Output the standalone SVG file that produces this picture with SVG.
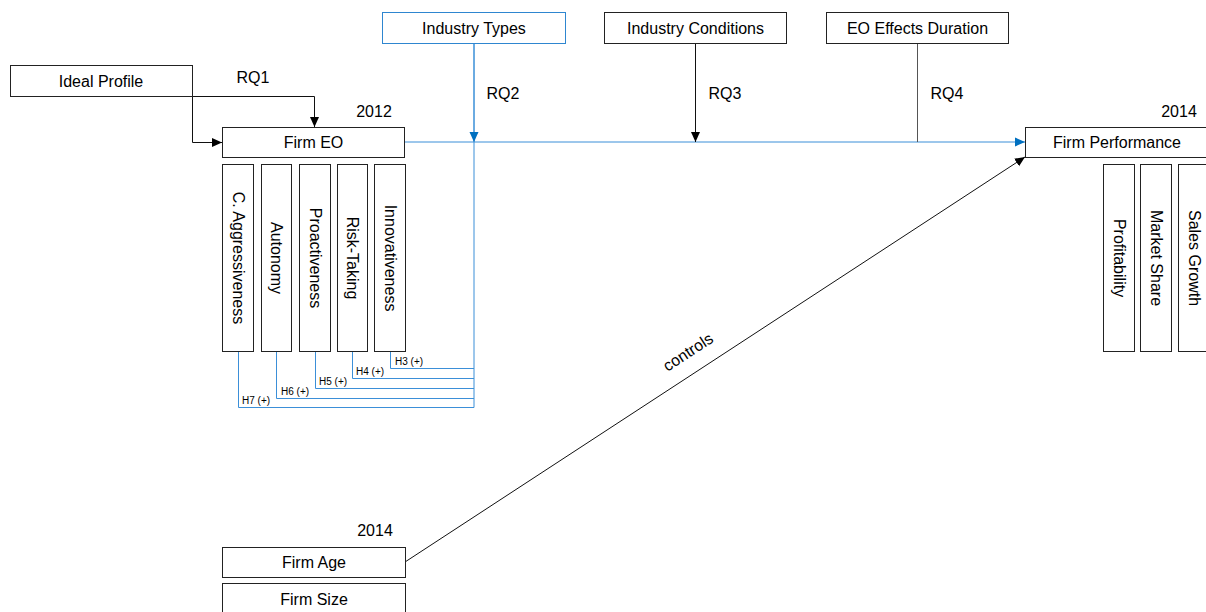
<svg xmlns="http://www.w3.org/2000/svg" width="1206" height="612" viewBox="0 0 1206 612">
<style>
text{font-family:"Liberation Sans",Arial,sans-serif;fill:#000}
.t{font-size:16px;text-anchor:middle}
.v{font-size:16px;text-anchor:middle;dominant-baseline:central}
.h{font-size:10px}
.box{fill:#fff;stroke:#222;stroke-width:1}
.bbox{fill:#fff;stroke:#2e86d0;stroke-width:1}
.k{fill:none;stroke:#111;stroke-width:1}
.g{fill:none;stroke:#555;stroke-width:1}
.b{fill:none;stroke:#3b8fd8;stroke-width:1}
</style>
<defs>
<marker id="ak" markerUnits="userSpaceOnUse" markerWidth="10" markerHeight="10" refX="10" refY="5" orient="auto"><path d="M0,0.5 L10,5 L0,9.5 z" fill="#000"/></marker>
<marker id="ab" markerUnits="userSpaceOnUse" markerWidth="10" markerHeight="10" refX="10" refY="5" orient="auto"><path d="M0,0.5 L10,5 L0,9.5 z" fill="#0070c0"/></marker>
</defs>
<g id="connectors">
<path class="k" d="M192.5,96.5 V142.5 H222" marker-end="url(#ak)"/>
<path class="k" d="M192.5,96.5 H314.5 V127" marker-end="url(#ak)"/>
<path class="b" d="M474,43 V407.5"/>
<path class="b" d="M474,43 V142" marker-end="url(#ab)"/>
<path class="b" d="M405,142 H1025" marker-end="url(#ab)"/>
<path class="k" d="M695.5,43 V142" marker-end="url(#ak)"/>
<path class="g" d="M917.5,43 V142"/>
<path class="b" d="M390.5,352 V368.5 H474"/>
<path class="b" d="M352.5,352 V378.5 H474"/>
<path class="b" d="M315.5,352 V388.5 H474"/>
<path class="b" d="M276.5,352 V398.5 H474"/>
<path class="b" d="M238.5,352 V407.5 H474"/>
<path class="k" d="M405,562 L1025,157" marker-end="url(#ak)"/>
<text class="t" x="253" y="83">RQ1</text>
<text class="t" x="503" y="99">RQ2</text>
<text class="t" x="725" y="99">RQ3</text>
<text class="t" x="947" y="99">RQ4</text>
<text class="h" x="395" y="365">H3 (+)</text>
<text class="h" x="356" y="375">H4 (+)</text>
<text class="h" x="319" y="385">H5 (+)</text>
<text class="h" x="281" y="395">H6 (+)</text>
<text class="h" x="242" y="404">H7 (+)</text>
<text class="v" transform="translate(688,352) rotate(-33.2)">controls</text>
</g>
<g id="ideal-profile"><rect class="box" x="10.5" y="65.5" width="182" height="31"/><text class="t" x="101" y="87">Ideal Profile</text></g>
<g id="industry-types"><rect class="bbox" x="382.5" y="12.5" width="183" height="31"/><text class="t" x="474" y="34">Industry Types</text></g>
<g id="industry-conditions"><rect class="box" x="604.5" y="12.5" width="182" height="31"/><text class="t" x="695.5" y="34">Industry Conditions</text></g>
<g id="eo-effects-duration"><rect class="box" x="826.5" y="12.5" width="182" height="31"/><text class="t" x="917.5" y="34">EO Effects Duration</text></g>
<g id="firm-eo"><text class="t" x="374" y="117">2012</text><rect class="box" x="222.5" y="127.5" width="182" height="30"/><text class="t" x="313.5" y="148">Firm EO</text></g>
<g id="c-aggressiveness"><rect class="box" x="222.5" y="164.5" width="31" height="187"/><text class="v" transform="translate(238,258) rotate(90)">C. Aggressiveness</text></g>
<g id="autonomy"><rect class="box" x="261.5" y="164.5" width="30" height="187"/><text class="v" transform="translate(276.5,258) rotate(90)">Autonomy</text></g>
<g id="proactiveness"><rect class="box" x="299.5" y="164.5" width="31" height="187"/><text class="v" transform="translate(315,258) rotate(90)">Proactiveness</text></g>
<g id="risk-taking"><rect class="box" x="337.5" y="164.5" width="30" height="187"/><text class="v" transform="translate(352.5,258) rotate(90)">Risk-Taking</text></g>
<g id="innovativeness"><rect class="box" x="374.5" y="164.5" width="31" height="187"/><text class="v" transform="translate(390,258) rotate(90)">Innovativeness</text></g>
<g id="firm-performance"><text class="t" x="1179" y="117">2014</text><rect class="box" x="1025.5" y="127.5" width="183" height="30"/><text class="t" x="1117" y="148">Firm Performance</text></g>
<g id="profitability"><rect class="box" x="1103.5" y="164.5" width="31" height="187"/><text class="v" transform="translate(1119,258) rotate(90)">Profitability</text></g>
<g id="market-share"><rect class="box" x="1140.5" y="164.5" width="31" height="187"/><text class="v" transform="translate(1156,258) rotate(90)">Market Share</text></g>
<g id="sales-growth"><rect class="box" x="1178.5" y="164.5" width="31" height="187"/><text class="v" transform="translate(1194,258) rotate(90)">Sales Growth</text></g>
<g id="firm-age"><text class="t" x="375" y="536">2014</text><rect class="box" x="222.5" y="547.5" width="183" height="30"/><text class="t" x="314" y="568">Firm Age</text></g>
<g id="firm-size"><rect class="box" x="222.5" y="583.5" width="183" height="31"/><text class="t" x="314" y="605">Firm Size</text></g>
</svg>
